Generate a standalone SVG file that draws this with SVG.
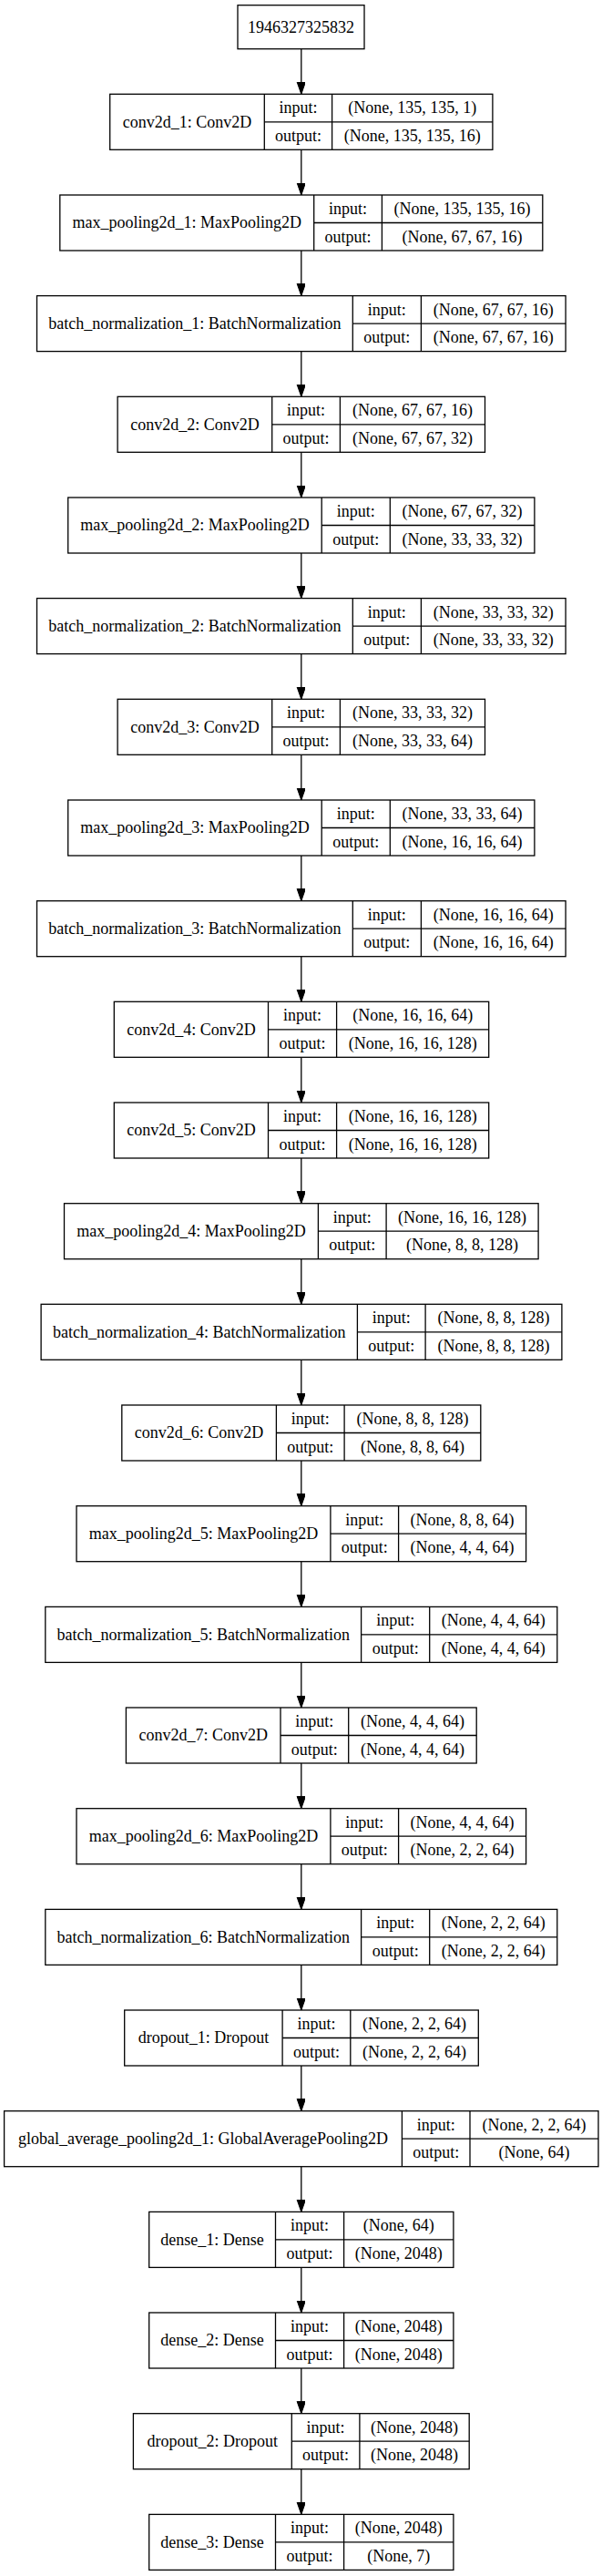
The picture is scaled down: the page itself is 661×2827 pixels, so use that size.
<svg xmlns="http://www.w3.org/2000/svg" width="661" height="2827" viewBox="0 0 661 2827">
<style>
rect.b{fill:#fff;stroke:#000;stroke-width:1.3}
line.d{stroke:#000;stroke-width:1.3}
text{font-family:"Liberation Serif","Times New Roman",serif;font-size:18px;fill:#000;text-anchor:middle}
.e{stroke:#000;stroke-width:1.3;fill:none;marker-end:url(#ah)}
</style>
<defs>
<marker id="ah" markerUnits="userSpaceOnUse" markerWidth="14" markerHeight="10" refX="13.3" refY="4.67" orient="auto">
<path d="M0,0 L13.3,4.67 L0,9.33 z" fill="#000" stroke="#000" stroke-width="1"/>
</marker>
</defs>
<rect width="661" height="2827" fill="#fff"/>
<g id="connectors">
<line class="e" x1="330.8" y1="53.7" x2="330.8" y2="103.3"/>
<line class="e" x1="330.8" y1="164.3" x2="330.8" y2="214"/>
<line class="e" x1="330.8" y1="275" x2="330.8" y2="324.6"/>
<line class="e" x1="330.8" y1="385.6" x2="330.8" y2="435.3"/>
<line class="e" x1="330.8" y1="496.3" x2="330.8" y2="546"/>
<line class="e" x1="330.8" y1="607" x2="330.8" y2="656.6"/>
<line class="e" x1="330.8" y1="717.6" x2="330.8" y2="767.3"/>
<line class="e" x1="330.8" y1="828.3" x2="330.8" y2="878"/>
<line class="e" x1="330.8" y1="939" x2="330.8" y2="988.7"/>
<line class="e" x1="330.8" y1="1049.7" x2="330.8" y2="1099.3"/>
<line class="e" x1="330.8" y1="1160.3" x2="330.8" y2="1210"/>
<line class="e" x1="330.8" y1="1271" x2="330.8" y2="1320.7"/>
<line class="e" x1="330.8" y1="1381.7" x2="330.8" y2="1431.3"/>
<line class="e" x1="330.8" y1="1492.3" x2="330.8" y2="1542"/>
<line class="e" x1="330.8" y1="1603" x2="330.8" y2="1652.7"/>
<line class="e" x1="330.8" y1="1713.7" x2="330.8" y2="1763.4"/>
<line class="e" x1="330.8" y1="1824.4" x2="330.8" y2="1874"/>
<line class="e" x1="330.8" y1="1935" x2="330.8" y2="1984.7"/>
<line class="e" x1="330.8" y1="2045.7" x2="330.8" y2="2095.4"/>
<line class="e" x1="330.8" y1="2156.4" x2="330.8" y2="2206"/>
<line class="e" x1="330.8" y1="2267" x2="330.8" y2="2316.7"/>
<line class="e" x1="330.8" y1="2377.7" x2="330.8" y2="2427.4"/>
<line class="e" x1="330.8" y1="2488.4" x2="330.8" y2="2538"/>
<line class="e" x1="330.8" y1="2599" x2="330.8" y2="2648.7"/>
<line class="e" x1="330.8" y1="2709.7" x2="330.8" y2="2759.4"/>
</g>
<g id="input_1946327325832">
<rect class="b" x="261" y="5.7" width="139" height="48"/>
<text x="330.5" y="35.6">1946327325832</text>
</g>
<g id="conv2d_1" transform="translate(0,103.3)">
<rect class="b" x="120.7" y="0" width="420.2" height="61"/>
<line class="d" x1="290.3" y1="0" x2="290.3" y2="61"/><line class="d" x1="364.6" y1="0" x2="364.6" y2="61"/><line class="d" x1="290.3" y1="30.5" x2="540.9" y2="30.5"/>
<text x="205.5" y="36.3">conv2d_1: Conv2D</text><text x="327.45" y="21">input:</text><text x="327.45" y="51.5">output:</text>
<text x="452.75" y="21">(None, 135, 135, 1)</text><text x="452.75" y="51.5">(None, 135, 135, 16)</text>
</g>
<g id="max_pooling2d_1" transform="translate(0,214)">
<rect class="b" x="65.8" y="0" width="530" height="61"/>
<line class="d" x1="344.7" y1="0" x2="344.7" y2="61"/><line class="d" x1="419.4" y1="0" x2="419.4" y2="61"/><line class="d" x1="344.7" y1="30.5" x2="595.8" y2="30.5"/>
<text x="205.25" y="36.3">max_pooling2d_1: MaxPooling2D</text><text x="382.05" y="21">input:</text><text x="382.05" y="51.5">output:</text>
<text x="507.6" y="21">(None, 135, 135, 16)</text><text x="507.6" y="51.5">(None, 67, 67, 16)</text>
</g>
<g id="batch_normalization_1" transform="translate(0,324.6)">
<rect class="b" x="40.5" y="0" width="580.6" height="61"/>
<line class="d" x1="387.3" y1="0" x2="387.3" y2="61"/><line class="d" x1="462.4" y1="0" x2="462.4" y2="61"/><line class="d" x1="387.3" y1="30.5" x2="621.1" y2="30.5"/>
<text x="213.9" y="36.3">batch_normalization_1: BatchNormalization</text><text x="424.85" y="21">input:</text><text x="424.85" y="51.5">output:</text>
<text x="541.75" y="21">(None, 67, 67, 16)</text><text x="541.75" y="51.5">(None, 67, 67, 16)</text>
</g>
<g id="conv2d_2" transform="translate(0,435.3)">
<rect class="b" x="129.1" y="0" width="403.4" height="61"/>
<line class="d" x1="298.7" y1="0" x2="298.7" y2="61"/><line class="d" x1="373.4" y1="0" x2="373.4" y2="61"/><line class="d" x1="298.7" y1="30.5" x2="532.5" y2="30.5"/>
<text x="213.9" y="36.3">conv2d_2: Conv2D</text><text x="336.05" y="21">input:</text><text x="336.05" y="51.5">output:</text>
<text x="452.95" y="21">(None, 67, 67, 16)</text><text x="452.95" y="51.5">(None, 67, 67, 32)</text>
</g>
<g id="max_pooling2d_2" transform="translate(0,546)">
<rect class="b" x="74.7" y="0" width="512.2" height="61"/>
<line class="d" x1="353.2" y1="0" x2="353.2" y2="61"/><line class="d" x1="428.3" y1="0" x2="428.3" y2="61"/><line class="d" x1="353.2" y1="30.5" x2="586.9" y2="30.5"/>
<text x="213.95" y="36.3">max_pooling2d_2: MaxPooling2D</text><text x="390.75" y="21">input:</text><text x="390.75" y="51.5">output:</text>
<text x="507.6" y="21">(None, 67, 67, 32)</text><text x="507.6" y="51.5">(None, 33, 33, 32)</text>
</g>
<g id="batch_normalization_2" transform="translate(0,656.6)">
<rect class="b" x="40.5" y="0" width="580.6" height="61"/>
<line class="d" x1="387.3" y1="0" x2="387.3" y2="61"/><line class="d" x1="462.4" y1="0" x2="462.4" y2="61"/><line class="d" x1="387.3" y1="30.5" x2="621.1" y2="30.5"/>
<text x="213.9" y="36.3">batch_normalization_2: BatchNormalization</text><text x="424.85" y="21">input:</text><text x="424.85" y="51.5">output:</text>
<text x="541.75" y="21">(None, 33, 33, 32)</text><text x="541.75" y="51.5">(None, 33, 33, 32)</text>
</g>
<g id="conv2d_3" transform="translate(0,767.3)">
<rect class="b" x="129.1" y="0" width="403.4" height="61"/>
<line class="d" x1="298.7" y1="0" x2="298.7" y2="61"/><line class="d" x1="373.4" y1="0" x2="373.4" y2="61"/><line class="d" x1="298.7" y1="30.5" x2="532.5" y2="30.5"/>
<text x="213.9" y="36.3">conv2d_3: Conv2D</text><text x="336.05" y="21">input:</text><text x="336.05" y="51.5">output:</text>
<text x="452.95" y="21">(None, 33, 33, 32)</text><text x="452.95" y="51.5">(None, 33, 33, 64)</text>
</g>
<g id="max_pooling2d_3" transform="translate(0,878)">
<rect class="b" x="74.7" y="0" width="512.2" height="61"/>
<line class="d" x1="353.2" y1="0" x2="353.2" y2="61"/><line class="d" x1="428.3" y1="0" x2="428.3" y2="61"/><line class="d" x1="353.2" y1="30.5" x2="586.9" y2="30.5"/>
<text x="213.95" y="36.3">max_pooling2d_3: MaxPooling2D</text><text x="390.75" y="21">input:</text><text x="390.75" y="51.5">output:</text>
<text x="507.6" y="21">(None, 33, 33, 64)</text><text x="507.6" y="51.5">(None, 16, 16, 64)</text>
</g>
<g id="batch_normalization_3" transform="translate(0,988.7)">
<rect class="b" x="40.5" y="0" width="580.6" height="61"/>
<line class="d" x1="387.3" y1="0" x2="387.3" y2="61"/><line class="d" x1="462.4" y1="0" x2="462.4" y2="61"/><line class="d" x1="387.3" y1="30.5" x2="621.1" y2="30.5"/>
<text x="213.9" y="36.3">batch_normalization_3: BatchNormalization</text><text x="424.85" y="21">input:</text><text x="424.85" y="51.5">output:</text>
<text x="541.75" y="21">(None, 16, 16, 64)</text><text x="541.75" y="51.5">(None, 16, 16, 64)</text>
</g>
<g id="conv2d_4" transform="translate(0,1099.3)">
<rect class="b" x="125.3" y="0" width="411.4" height="61"/>
<line class="d" x1="294.5" y1="0" x2="294.5" y2="61"/><line class="d" x1="369.6" y1="0" x2="369.6" y2="61"/><line class="d" x1="294.5" y1="30.5" x2="536.7" y2="30.5"/>
<text x="209.9" y="36.3">conv2d_4: Conv2D</text><text x="332.05" y="21">input:</text><text x="332.05" y="51.5">output:</text>
<text x="453.15" y="21">(None, 16, 16, 64)</text><text x="453.15" y="51.5">(None, 16, 16, 128)</text>
</g>
<g id="conv2d_5" transform="translate(0,1210)">
<rect class="b" x="125.3" y="0" width="411.4" height="61"/>
<line class="d" x1="294.5" y1="0" x2="294.5" y2="61"/><line class="d" x1="369.6" y1="0" x2="369.6" y2="61"/><line class="d" x1="294.5" y1="30.5" x2="536.7" y2="30.5"/>
<text x="209.9" y="36.3">conv2d_5: Conv2D</text><text x="332.05" y="21">input:</text><text x="332.05" y="51.5">output:</text>
<text x="453.15" y="21">(None, 16, 16, 128)</text><text x="453.15" y="51.5">(None, 16, 16, 128)</text>
</g>
<g id="max_pooling2d_4" transform="translate(0,1320.7)">
<rect class="b" x="70.5" y="0" width="520.6" height="61"/>
<line class="d" x1="349.4" y1="0" x2="349.4" y2="61"/><line class="d" x1="424.1" y1="0" x2="424.1" y2="61"/><line class="d" x1="349.4" y1="30.5" x2="591.1" y2="30.5"/>
<text x="209.95" y="36.3">max_pooling2d_4: MaxPooling2D</text><text x="386.75" y="21">input:</text><text x="386.75" y="51.5">output:</text>
<text x="507.6" y="21">(None, 16, 16, 128)</text><text x="507.6" y="51.5">(None, 8, 8, 128)</text>
</g>
<g id="batch_normalization_4" transform="translate(0,1431.3)">
<rect class="b" x="45.1" y="0" width="571.8" height="61"/>
<line class="d" x1="392.4" y1="0" x2="392.4" y2="61"/><line class="d" x1="467.1" y1="0" x2="467.1" y2="61"/><line class="d" x1="392.4" y1="30.5" x2="616.9" y2="30.5"/>
<text x="218.75" y="36.3">batch_normalization_4: BatchNormalization</text><text x="429.75" y="21">input:</text><text x="429.75" y="51.5">output:</text>
<text x="542" y="21">(None, 8, 8, 128)</text><text x="542" y="51.5">(None, 8, 8, 128)</text>
</g>
<g id="conv2d_6" transform="translate(0,1542)">
<rect class="b" x="133.8" y="0" width="394" height="61"/>
<line class="d" x1="303.4" y1="0" x2="303.4" y2="61"/><line class="d" x1="378.1" y1="0" x2="378.1" y2="61"/><line class="d" x1="303.4" y1="30.5" x2="527.8" y2="30.5"/>
<text x="218.6" y="36.3">conv2d_6: Conv2D</text><text x="340.75" y="21">input:</text><text x="340.75" y="51.5">output:</text>
<text x="452.95" y="21">(None, 8, 8, 128)</text><text x="452.95" y="51.5">(None, 8, 8, 64)</text>
</g>
<g id="max_pooling2d_5" transform="translate(0,1652.7)">
<rect class="b" x="84" y="0" width="493.6" height="61"/>
<line class="d" x1="362.9" y1="0" x2="362.9" y2="61"/><line class="d" x1="437.6" y1="0" x2="437.6" y2="61"/><line class="d" x1="362.9" y1="30.5" x2="577.6" y2="30.5"/>
<text x="223.45" y="36.3">max_pooling2d_5: MaxPooling2D</text><text x="400.25" y="21">input:</text><text x="400.25" y="51.5">output:</text>
<text x="507.6" y="21">(None, 8, 8, 64)</text><text x="507.6" y="51.5">(None, 4, 4, 64)</text>
</g>
<g id="batch_normalization_5" transform="translate(0,1763.4)">
<rect class="b" x="49.8" y="0" width="562" height="61"/>
<line class="d" x1="396.6" y1="0" x2="396.6" y2="61"/><line class="d" x1="471.7" y1="0" x2="471.7" y2="61"/><line class="d" x1="396.6" y1="30.5" x2="611.8" y2="30.5"/>
<text x="223.2" y="36.3">batch_normalization_5: BatchNormalization</text><text x="434.15" y="21">input:</text><text x="434.15" y="51.5">output:</text>
<text x="541.75" y="21">(None, 4, 4, 64)</text><text x="541.75" y="51.5">(None, 4, 4, 64)</text>
</g>
<g id="conv2d_7" transform="translate(0,1874)">
<rect class="b" x="138.4" y="0" width="384.8" height="61"/>
<line class="d" x1="308" y1="0" x2="308" y2="61"/><line class="d" x1="382.7" y1="0" x2="382.7" y2="61"/><line class="d" x1="308" y1="30.5" x2="523.2" y2="30.5"/>
<text x="223.2" y="36.3">conv2d_7: Conv2D</text><text x="345.35" y="21">input:</text><text x="345.35" y="51.5">output:</text>
<text x="452.95" y="21">(None, 4, 4, 64)</text><text x="452.95" y="51.5">(None, 4, 4, 64)</text>
</g>
<g id="max_pooling2d_6" transform="translate(0,1984.7)">
<rect class="b" x="84" y="0" width="493.6" height="61"/>
<line class="d" x1="362.9" y1="0" x2="362.9" y2="61"/><line class="d" x1="437.6" y1="0" x2="437.6" y2="61"/><line class="d" x1="362.9" y1="30.5" x2="577.6" y2="30.5"/>
<text x="223.45" y="36.3">max_pooling2d_6: MaxPooling2D</text><text x="400.25" y="21">input:</text><text x="400.25" y="51.5">output:</text>
<text x="507.6" y="21">(None, 4, 4, 64)</text><text x="507.6" y="51.5">(None, 2, 2, 64)</text>
</g>
<g id="batch_normalization_6" transform="translate(0,2095.4)">
<rect class="b" x="49.8" y="0" width="562" height="61"/>
<line class="d" x1="396.6" y1="0" x2="396.6" y2="61"/><line class="d" x1="471.7" y1="0" x2="471.7" y2="61"/><line class="d" x1="396.6" y1="30.5" x2="611.8" y2="30.5"/>
<text x="223.2" y="36.3">batch_normalization_6: BatchNormalization</text><text x="434.15" y="21">input:</text><text x="434.15" y="51.5">output:</text>
<text x="541.75" y="21">(None, 2, 2, 64)</text><text x="541.75" y="51.5">(None, 2, 2, 64)</text>
</g>
<g id="dropout_1" transform="translate(0,2206)">
<rect class="b" x="136.7" y="0" width="388.6" height="61"/>
<line class="d" x1="310.1" y1="0" x2="310.1" y2="61"/><line class="d" x1="384.8" y1="0" x2="384.8" y2="61"/><line class="d" x1="310.1" y1="30.5" x2="525.3" y2="30.5"/>
<text x="223.4" y="36.3">dropout_1: Dropout</text><text x="347.45" y="21">input:</text><text x="347.45" y="51.5">output:</text>
<text x="455.05" y="21">(None, 2, 2, 64)</text><text x="455.05" y="51.5">(None, 2, 2, 64)</text>
</g>
<g id="global_average_pooling2d_1" transform="translate(0,2316.7)">
<rect class="b" x="4.6" y="0" width="652.4" height="61"/>
<line class="d" x1="441.4" y1="0" x2="441.4" y2="61"/><line class="d" x1="516" y1="0" x2="516" y2="61"/><line class="d" x1="441.4" y1="30.5" x2="657" y2="30.5"/>
<text x="223" y="36.3">global_average_pooling2d_1: GlobalAveragePooling2D</text><text x="478.7" y="21">input:</text><text x="478.7" y="51.5">output:</text>
<text x="586.5" y="21">(None, 2, 2, 64)</text><text x="586.5" y="51.5">(None, 64)</text>
</g>
<g id="dense_1" transform="translate(0,2427.4)">
<rect class="b" x="163.7" y="0" width="334.2" height="61"/>
<line class="d" x1="302.5" y1="0" x2="302.5" y2="61"/><line class="d" x1="377.6" y1="0" x2="377.6" y2="61"/><line class="d" x1="302.5" y1="30.5" x2="497.9" y2="30.5"/>
<text x="233.1" y="36.3">dense_1: Dense</text><text x="340.05" y="21">input:</text><text x="340.05" y="51.5">output:</text>
<text x="437.75" y="21">(None, 64)</text><text x="437.75" y="51.5">(None, 2048)</text>
</g>
<g id="dense_2" transform="translate(0,2538)">
<rect class="b" x="163.7" y="0" width="334.2" height="61"/>
<line class="d" x1="302.5" y1="0" x2="302.5" y2="61"/><line class="d" x1="377.6" y1="0" x2="377.6" y2="61"/><line class="d" x1="302.5" y1="30.5" x2="497.9" y2="30.5"/>
<text x="233.1" y="36.3">dense_2: Dense</text><text x="340.05" y="21">input:</text><text x="340.05" y="51.5">output:</text>
<text x="437.75" y="21">(None, 2048)</text><text x="437.75" y="51.5">(None, 2048)</text>
</g>
<g id="dropout_2" transform="translate(0,2648.7)">
<rect class="b" x="146.4" y="0" width="368.8" height="61"/>
<line class="d" x1="320.3" y1="0" x2="320.3" y2="61"/><line class="d" x1="394.9" y1="0" x2="394.9" y2="61"/><line class="d" x1="320.3" y1="30.5" x2="515.2" y2="30.5"/>
<text x="233.35" y="36.3">dropout_2: Dropout</text><text x="357.6" y="21">input:</text><text x="357.6" y="51.5">output:</text>
<text x="455.05" y="21">(None, 2048)</text><text x="455.05" y="51.5">(None, 2048)</text>
</g>
<g id="dense_3" transform="translate(0,2759.4)">
<rect class="b" x="163.7" y="0" width="334.2" height="61"/>
<line class="d" x1="302.5" y1="0" x2="302.5" y2="61"/><line class="d" x1="377.6" y1="0" x2="377.6" y2="61"/><line class="d" x1="302.5" y1="30.5" x2="497.9" y2="30.5"/>
<text x="233.1" y="36.3">dense_3: Dense</text><text x="340.05" y="21">input:</text><text x="340.05" y="51.5">output:</text>
<text x="437.75" y="21">(None, 2048)</text><text x="437.75" y="51.5">(None, 7)</text>
</g>
</svg>
